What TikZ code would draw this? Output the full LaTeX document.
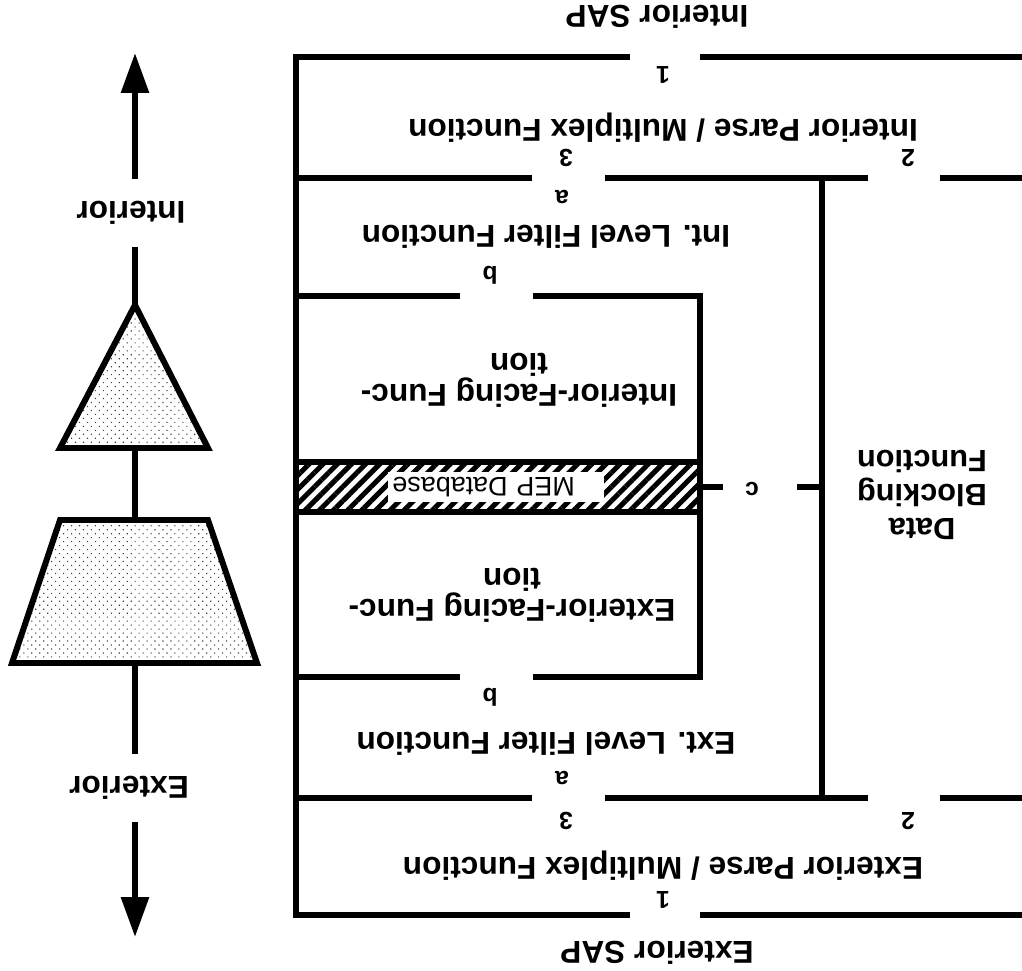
\documentclass[tikz,border=0pt]{standalone}
\usepackage{fontspec}
\setmainfont{Liberation Sans}
\usetikzlibrary{arrows.meta,patterns.meta}
\begin{document}
\begin{tikzpicture}[x=0.02cm, y=-0.02cm,
    every node/.style={rotate=180, inner sep=1pt, font=\bfseries\fontsize{18}{16}\selectfont},
    port/.style={font=\bfseries\fontsize{14}{14}\selectfont},
    wall/.style={line width=3.4pt},
    shaft/.style={line width=3.4pt},
    arr/.style={line width=3.4pt, -{Triangle[length=0.8cm, width=0.54cm]}},
    dotty/.style={pattern={Dots[radius=0.45pt, distance=3.2pt, angle=45]}, pattern color=black!75}]
  \useasboundingbox (0,0) rectangle (1022,971);
  % frame
  \draw [wall] (630,57) -- (296,57) -- (296,915) -- (630,915);
  \draw [wall] (700,57) -- (1022,57);
  \draw [wall] (700,915) -- (1022,915);
  \draw [wall] (296,178) -- (532,178);
  \draw [wall] (605,178) -- (868,178);
  \draw [wall] (940,178) -- (1022,178);
  \draw [wall] (296,798) -- (532,798);
  \draw [wall] (605,798) -- (868,798);
  \draw [wall] (940,798) -- (1022,798);
  \draw [wall] (822,178) -- (822,798);
  % inner box
  \draw [wall] (296,296) -- (460,296);
  \draw [wall] (533,296) -- (700,296) -- (700,677) -- (533,677);
  \draw [wall] (460,677) -- (296,677);
  \fill [pattern={Lines[angle=45, distance=0.2cm, line width=0.1cm]}] (296,462) rectangle (700,512);
  \draw [wall] (296,462) -- (700,462);
  \draw [wall] (296,512) -- (700,512);
  \node (mep) [fill=white, inner xsep=0.1cm, inner ysep=0pt, minimum height=0.6cm, text width=4.14cm, align=right, font=\fontsize{15.3}{15}\selectfont] at (496,487) {MEP Database};
  \draw [wall] (700,487) -- (723,487);
  \draw [wall] (797,487) -- (822,487);
  % labels
  \node (isap) at (657,17) {Interior SAP};
  \node (esap) at (657,953) {Exterior SAP};
  \node (ipm) at (663,128) {Interior Parse / Multiplex Function};
  \node (epm) at (663,866) {Exterior Parse / Multiplex Function};
  \node (ilf) at (546,237) {Int. Level Filter Function};
  \node (elf) at (546,744) {Ext. Level Filter Function};
  \node (ifc) [align=center] at (519,380) {Interior-Facing Func-\\tion};
  \node (efc) [align=center] at (512,595) {Exterior-Facing Func-\\tion};
  \node (dbf) [align=center, font=\bfseries\fontsize{17.5}{19.5}\selectfont] at (922,495) {Data\\Blocking\\Function};
  \node (i1) [port] at (663,75) {1};
  \node (i3) [port] at (566,158) {3};
  \node (i2) [port] at (908,158) {2};
  \node (ia) [port] at (562,197) {a};
  \node (ib) [port] at (490,275) {b};
  \node (cc) [port] at (752,489) {c};
  \node (eb) [port] at (490,697) {b};
  \node (ea) [port] at (562,778) {a};
  \node (e3) [port] at (566,821) {3};
  \node (e2) [port] at (908,821) {2};
  \node (e1) [port] at (663,900) {1};
  % left column
  \coordinate (itip) at (135,53);
  \coordinate (apex) at (135,305);
  \coordinate (tbase) at (135,448);
  \coordinate (ztop) at (135,520);
  \coordinate (zbot) at (135,663);
  \coordinate (etip) at (135,937);
  \node (intl) [inner ysep=0.44cm] at (131,213) {Interior};
  \node (extl) [inner ysep=0.44cm] at (129,788) {Exterior};
  \draw [arr] (itip |- intl.south) -- (itip);
  \draw [shaft] (apex |- intl.north) -- (apex);
  \draw [shaft] (tbase) -- (ztop);
  \draw [shaft] (zbot) -- (zbot |- extl.south);
  \draw [arr] (etip |- extl.north) -- (etip);
  \draw [wall, dotty] (apex) -- (208,448) -- (60,448) -- cycle;
  \draw [wall, dotty] (60,520) -- (208,520) -- (257,663) -- (12,663) -- cycle;
\end{tikzpicture}
\end{document}
